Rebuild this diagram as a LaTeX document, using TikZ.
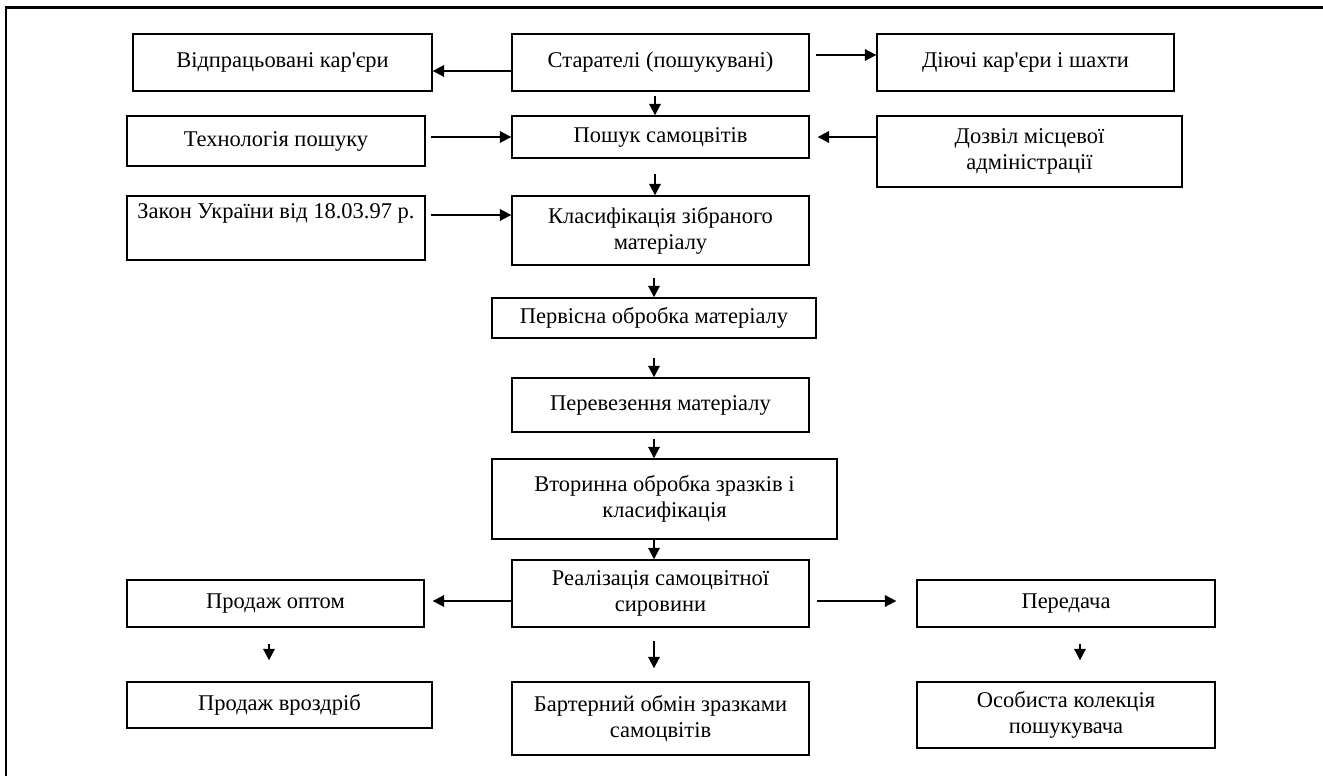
\documentclass[tikz,border=0pt]{standalone}
\usepackage{fontspec}
\setmainfont{Liberation Serif}
\usepackage{tikz}
\usetikzlibrary{arrows.meta}

\begin{document}
\begin{tikzpicture}[
		x=0.02cm, y=-0.02cm,
		blok/.style={draw, rectangle, line width=0.8pt, inner sep=0pt, align=center,
			font=\fontsize{12.8}{14.7}\selectfont},
		strilka/.style={line width=1.1pt, -{Triangle[length=6.5pt, width=6.5pt]}},
		ramka/.style={line width=1.7pt}
	]
  \useasboundingbox (0,0) rectangle (1323,776);
  \draw[ramka] (6,776) |- (1323,8);
  % top rows
  \node (vidp) [blok, minimum width=5.98cm, minimum height=1.14cm] at (282.5, 62.5) {Відпрацьовані кар\textquotesingle єри};
  \node (star) [blok, minimum width=5.94cm, minimum height=1.14cm] at (660.5, 62.5) {Старателі (пошукувані)};
  \node (diyu) [blok, minimum width=5.94cm, minimum height=1.14cm] at (1025.5, 62.5) {Діючі кар\textquotesingle єри і шахти};
  \node (tekh) [blok, minimum width=5.96cm, minimum height=1.0cm] at (276, 141) {Технологія пошуку};
  \node (poshuk) [blok, minimum width=5.94cm, minimum height=0.84cm] at (660.5, 137) {Пошук самоцвітів};
  \node (dozv) [blok, minimum width=6.1cm, minimum height=1.42cm] at (1029.5, 151.5) {Дозвіл місцевої\\адміністрації};
  \node (zakon) [blok, minimum width=5.96cm, minimum height=1.28cm] at (276, 228) {Закон України від 18.03.97 р.\\\strut};
  \node (klas) [blok, minimum width=5.94cm, minimum height=1.38cm] at (660.5, 230.5) {Класифікація зібраного\\матеріалу};
  % middle column
  \node (perv) [blok, minimum width=6.48cm, minimum height=0.8cm] at (654, 318) {Первісна обробка матеріалу};
  \node (perev) [blok, minimum width=5.94cm, minimum height=1.08cm] at (660.5, 405) {Перевезення матеріалу};
  \node (vtor) [blok, minimum width=6.9cm, minimum height=1.6cm] at (664.5, 499) {Вторинна обробка зразків і\\класифікація};
  \node (real) [blok, minimum width=5.94cm, minimum height=1.34cm] at (660.5, 593.5) {Реалізація самоцвітної\\сировини};
  % bottom rows
  \node (opt) [blok, minimum width=5.94cm, minimum height=0.94cm] at (275.5, 603.5) {Продаж оптом};
  \node (vrozd) [blok, minimum width=6.1cm, minimum height=0.92cm] at (279.5, 705) {Продаж вроздріб};
  \node (barter) [blok, minimum width=5.94cm, minimum height=1.46cm] at (660.5, 718.5) {Бартерний обмін зразками\\самоцвітів};
  \node (pered) [blok, minimum width=5.96cm, minimum height=0.94cm] at (1066, 603.5) {Передача};
  \node (osob) [blok, minimum width=5.96cm, minimum height=1.32cm] at (1066, 715) {Особиста колекція\\пошукувача};

  \draw[strilka] ([yshift=-0.17cm]star.west) -- ([yshift=-0.17cm]star.west -| vidp.east);
  \draw[strilka] ([xshift=0.12cm, yshift=0.15cm]star.east) -- ([yshift=0.15cm]diyu.west);
  \draw[strilka] ([xshift=-0.11cm, yshift=-0.08cm]star.south) -- ([xshift=-0.11cm]poshuk.north);
  \draw[strilka] ([xshift=0.1cm]tekh.east |- poshuk.west) -- (poshuk.west);
  \draw[strilka] (dozv.west |- poshuk.east) -- ([xshift=0.16cm]poshuk.east);
  \draw[strilka] ([xshift=-0.11cm, yshift=-0.3cm]poshuk.south) -- ([xshift=-0.11cm]klas.north);
  \draw[strilka] ([xshift=0.1cm, yshift=0.26cm]zakon.east) -- ([yshift=0.26cm]klas.west |- zakon.east);
  \draw[strilka] ([yshift=-0.24cm]perv.north |- klas.south) -- (perv.north);
  \draw[strilka] ([yshift=-0.38cm]perv.south) -- (perv.south |- perev.north);
  \draw[strilka] ([yshift=-0.12cm]perv.south |- perev.south) -- (perv.south |- vtor.north);
  \draw[strilka] (perv.south |- vtor.south) -- (perv.south |- real.north);
  \draw[strilka] ([yshift=-0.15cm]real.west) -- ([xshift=0.16cm, yshift=-0.15cm]opt.east |- real.west);
  \draw[strilka] ([xshift=0.14cm, yshift=-0.15cm]real.east) -- ([xshift=-0.4cm, yshift=-0.15cm]pered.west |- real.east);
  \draw[strilka] ([yshift=-0.26cm]perv.south |- real.south) -- ([yshift=0.26cm]perv.south |- barter.north);
  \draw[strilka] ([xshift=-0.13cm, yshift=-0.32cm]opt.south) -- ([xshift=-0.13cm, yshift=0.42cm]vrozd.north -| opt.south);
  \draw[strilka] ([xshift=0.28cm, yshift=-0.32cm]pered.south) -- ([xshift=0.28cm, yshift=0.42cm]osob.north);
\end{tikzpicture}
\end{document}
